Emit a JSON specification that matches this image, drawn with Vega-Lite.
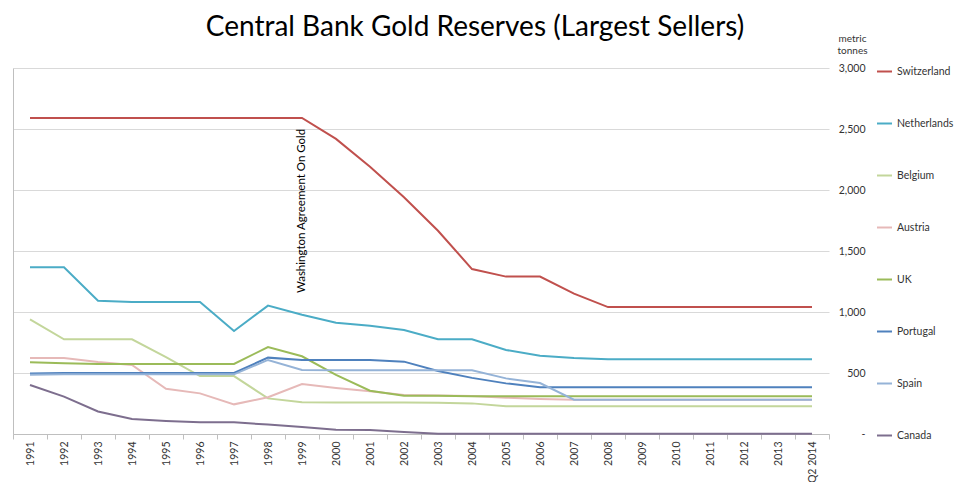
{
  "$schema": "https://vega.github.io/schema/vega-lite/v6.json",
  "width": 816,
  "height": 366,
  "autosize": "none",
  "padding": {"left": 13, "top": 68, "right": 126, "bottom": 48},
  "background": "white",
  "title": {
    "text": "Central Bank Gold Reserves (Largest Sellers)",
    "font": "Lato",
    "fontSize": 28,
    "fontWeight": "normal",
    "color": "#000000",
    "anchor": "middle",
    "frame": "group",
    "dx": 54,
    "offset": -9
  },
  "config": {
    "view": {"stroke": null},
    "font": "Lato"
  },
  "datasets": {
    "reserves": [
      {"year": "1991", "Switzerland": 2590, "Netherlands": 1367, "Belgium": 940, "Austria": 623, "UK": 588, "Portugal": 495, "Spain": 486, "Canada": 402},
      {"year": "1992", "Switzerland": 2590, "Netherlands": 1367, "Belgium": 776, "Austria": 623, "UK": 579, "Portugal": 500, "Spain": 489, "Canada": 306},
      {"year": "1993", "Switzerland": 2590, "Netherlands": 1093, "Belgium": 776, "Austria": 590, "UK": 574, "Portugal": 500, "Spain": 489, "Canada": 185},
      {"year": "1994", "Switzerland": 2590, "Netherlands": 1082, "Belgium": 776, "Austria": 566, "UK": 574, "Portugal": 500, "Spain": 489, "Canada": 123},
      {"year": "1995", "Switzerland": 2590, "Netherlands": 1082, "Belgium": 630, "Austria": 371, "UK": 574, "Portugal": 500, "Spain": 489, "Canada": 107},
      {"year": "1996", "Switzerland": 2590, "Netherlands": 1082, "Belgium": 475, "Austria": 333, "UK": 574, "Portugal": 500, "Spain": 489, "Canada": 96},
      {"year": "1997", "Switzerland": 2590, "Netherlands": 844, "Belgium": 475, "Austria": 243, "UK": 574, "Portugal": 500, "Spain": 489, "Canada": 96},
      {"year": "1998", "Switzerland": 2590, "Netherlands": 1052, "Belgium": 292, "Austria": 301, "UK": 713, "Portugal": 626, "Spain": 607, "Canada": 77},
      {"year": "1999", "Switzerland": 2590, "Netherlands": 978, "Belgium": 260, "Austria": 410, "UK": 637, "Portugal": 607, "Spain": 525, "Canada": 57},
      {"year": "2000", "Switzerland": 2419, "Netherlands": 912, "Belgium": 258, "Austria": 377, "UK": 484, "Portugal": 607, "Spain": 523, "Canada": 35},
      {"year": "2001", "Switzerland": 2190, "Netherlands": 888, "Belgium": 258, "Austria": 350, "UK": 355, "Portugal": 607, "Spain": 523, "Canada": 33},
      {"year": "2002", "Switzerland": 1940, "Netherlands": 852, "Belgium": 258, "Austria": 320, "UK": 314, "Portugal": 593, "Spain": 523, "Canada": 16},
      {"year": "2003", "Switzerland": 1666, "Netherlands": 776, "Belgium": 257, "Austria": 316, "UK": 313, "Portugal": 516, "Spain": 523, "Canada": 3},
      {"year": "2004", "Switzerland": 1352, "Netherlands": 776, "Belgium": 251, "Austria": 312, "UK": 310, "Portugal": 460, "Spain": 523, "Canada": 3},
      {"year": "2005", "Switzerland": 1290, "Netherlands": 689, "Belgium": 227, "Austria": 298, "UK": 310, "Portugal": 415, "Spain": 456, "Canada": 3},
      {"year": "2006", "Switzerland": 1290, "Netherlands": 642, "Belgium": 227, "Austria": 287, "UK": 310, "Portugal": 383, "Spain": 418, "Canada": 3},
      {"year": "2007", "Switzerland": 1150, "Netherlands": 623, "Belgium": 227, "Austria": 281, "UK": 310, "Portugal": 383, "Spain": 281, "Canada": 3},
      {"year": "2008", "Switzerland": 1040, "Netherlands": 612, "Belgium": 227, "Austria": 280, "UK": 310, "Portugal": 383, "Spain": 281, "Canada": 3},
      {"year": "2009", "Switzerland": 1040, "Netherlands": 612, "Belgium": 227, "Austria": 280, "UK": 310, "Portugal": 383, "Spain": 281, "Canada": 3},
      {"year": "2010", "Switzerland": 1040, "Netherlands": 612, "Belgium": 227, "Austria": 280, "UK": 310, "Portugal": 383, "Spain": 281, "Canada": 3},
      {"year": "2011", "Switzerland": 1040, "Netherlands": 612, "Belgium": 227, "Austria": 280, "UK": 310, "Portugal": 383, "Spain": 281, "Canada": 3},
      {"year": "2012", "Switzerland": 1040, "Netherlands": 612, "Belgium": 227, "Austria": 280, "UK": 310, "Portugal": 383, "Spain": 281, "Canada": 3},
      {"year": "2013", "Switzerland": 1040, "Netherlands": 612, "Belgium": 227, "Austria": 280, "UK": 310, "Portugal": 383, "Spain": 281, "Canada": 3},
      {"year": "Q2 2014", "Switzerland": 1040, "Netherlands": 612, "Belgium": 227, "Austria": 280, "UK": 310, "Portugal": 383, "Spain": 281, "Canada": 3}
    ],
    "notes": [
      {"year": "1999", "t": 1155, "note": "Washington Agreement On Gold"}
    ]
  },
  "layer": [
    {
      "data": {"name": "reserves"},
      "transform": [
        {"fold": ["Switzerland", "Netherlands", "Belgium", "Austria", "UK", "Portugal", "Spain", "Canada"], "as": ["country", "t"]}
      ],
      "mark": {"type": "line", "strokeWidth": 2},
      "encoding": {
        "x": {
          "field": "year",
          "type": "nominal",
          "sort": null,
          "scale": {
            "type": "band",
            "paddingInner": 0,
            "paddingOuter": 0,
            "domain": ["1991", "1992", "1993", "1994", "1995", "1996", "1997", "1998", "1999", "2000", "2001", "2002", "2003", "2004", "2005", "2006", "2007", "2008", "2009", "2010", "2011", "2012", "2013", "Q2 2014"]
          },
          "axis": {
            "orient": "bottom",
            "title": null,
            "labelAngle": -90,
            "labelFont": "Lato",
            "labelFontSize": 10.5,
            "labelColor": "#333333",
            "labelPadding": 2,
            "tickBand": "extent",
            "tickSize": 5,
            "tickColor": "#BFBFBF",
            "domainColor": "#BFBFBF",
            "grid": false
          }
        },
        "y": {
          "field": "t",
          "type": "quantitative",
          "scale": {"domain": [0, 3000], "nice": false},
          "axis": {
            "orient": "right",
            "values": [0, 500, 1000, 1500, 2000, 2500, 3000],
            "grid": true,
            "gridColor": "#D9D9D9",
            "domain": false,
            "ticks": false,
            "labelAlign": "right",
            "labelPadding": 36,
            "labelFont": "Lato",
            "labelFontSize": 10.5,
            "labelColor": "#333333",
            "labelExpr": "datum.value == 0 ? '-\u00a0\u00a0\u00a0\u00a0\u00a0\u00a0\u00a0' : format(datum.value, ',')",
            "title": ["metric", "tonnes"],
            "titleAngle": 0,
            "titleX": 23,
            "titleY": -30,
            "titleAlign": "center",
            "titleBaseline": "middle",
            "titleLineHeight": 12,
            "titleFont": "Lato",
            "titleFontSize": 10,
            "titleFontWeight": "normal",
            "titleColor": "#333333"
          }
        },
        "color": {
          "field": "country",
          "type": "nominal",
          "scale": {
            "domain": ["Switzerland", "Netherlands", "Belgium", "Austria", "UK", "Portugal", "Spain", "Canada"],
            "range": ["#C0504D", "#4BACC6", "#C3D69B", "#E6B9B8", "#9BBB59", "#4F81BD", "#95B3D7", "#7D6E8E"]
          },
          "legend": {
            "orient": "none",
            "legendX": 863,
            "legendY": -5,
            "title": null,
            "padding": 0,
            "symbolType": "stroke",
            "symbolSize": 225,
            "symbolStrokeWidth": 2,
            "rowPadding": 38,
            "labelFont": "Lato",
            "labelFontSize": 10.5,
            "labelColor": "#333333",
            "labelOffset": 4
          }
        }
      }
    },
    {
      "data": {"name": "notes"},
      "mark": {
        "type": "text",
        "angle": 270,
        "align": "left",
        "baseline": "middle",
        "font": "Lato",
        "fontSize": 11.5,
        "color": "#000000"
      },
      "encoding": {
        "x": {"field": "year", "type": "nominal", "sort": null},
        "y": {
          "field": "t",
          "type": "quantitative",
          "axis": {
            "orient": "left",
            "title": null,
            "labels": false,
            "ticks": false,
            "grid": false,
            "domain": true,
            "domainColor": "#BFBFBF"
          }
        },
        "text": {"field": "note"}
      }
    }
  ],
  "resolve": {"axis": {"y": "independent"}}
}
